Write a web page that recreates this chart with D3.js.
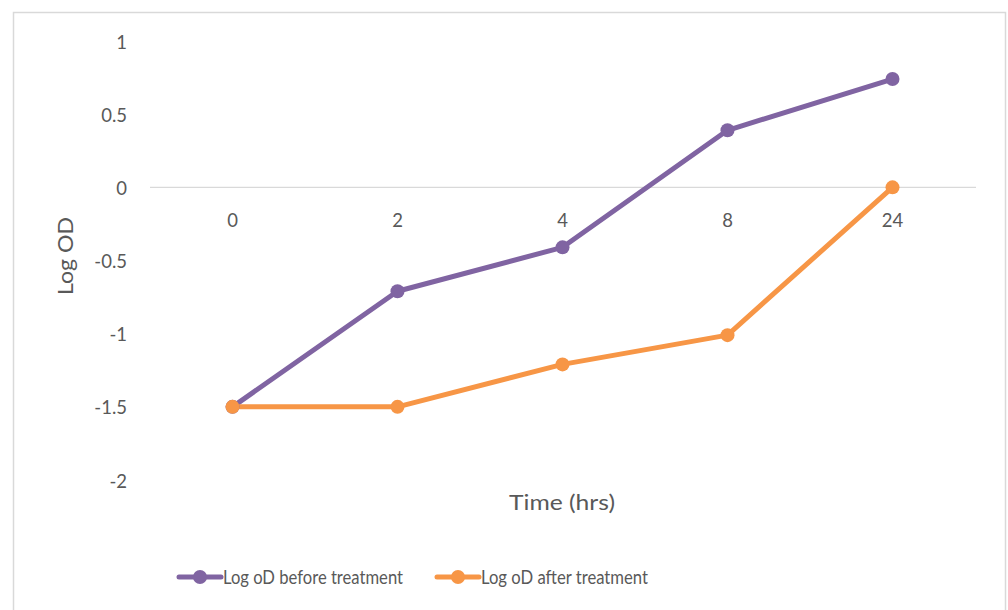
<!DOCTYPE html>
<html><head><meta charset="utf-8">
<script src="https://cdn.jsdelivr.net/npm/d3@7"></script>
<style>body{margin:0;background:#fff;}svg{display:block;}</style>
</head><body>
<svg id="chart" width="1008" height="610"></svg>
<script>
const categories = ["0", "2", "4", "8", "24"];
const beforeValues = [-1.5, -0.71, -0.41, 0.39, 0.74];
const afterValues = [-1.5, -1.5, -1.21, -1.01, 0.0];
const yTicks = [1, 0.5, 0, -0.5, -1, -1.5, -2];
const seriesNames = ["Log oD before treatment", "Log oD after treatment"];
const seriesColors = ["#8064A2", "#F79646"];

const svg = d3.select("#chart");
const font = "Lato, 'Open Sans', sans-serif";
const textColor = "#595959";

svg.append("rect").attr("x", 13.5).attr("y", 12.5).attr("width", 992).attr("height", 610)
  .attr("fill", "#fff").attr("stroke", "#D9D9D9").attr("stroke-width", 1.5);

const x = d3.scaleBand().domain(categories).range([150, 975]);
const y = d3.scaleLinear().domain([-2, 1]).range([480, 41]);
const fmt = v => d3.format("~g")(v).replace("\u2212", "-");

// zero line
svg.append("line").attr("x1", 150).attr("x2", 976).attr("y1", y(0)).attr("y2", y(0))
  .attr("stroke", "#D9D9D9").attr("stroke-width", 1.3);

// y tick labels
const yAxis = d3.axisLeft(y).tickValues(yTicks).tickSize(0).tickPadding(0).tickFormat(fmt);
const gy = svg.append("g").attr("transform", "translate(127,0)").call(yAxis);
gy.select(".domain").remove();
gy.selectAll("text").attr("font-family", font).attr("font-size", 18.5).attr("fill", textColor)
  .attr("dy", null).attr("y", 7);

// x tick labels
const xAxis = d3.axisBottom(x).tickSize(0).tickPadding(0);
const gx = svg.append("g").attr("transform", `translate(0,${y(0)})`).call(xAxis);
gx.select(".domain").remove();
gx.selectAll("text").attr("font-family", font).attr("font-size", 18.5).attr("fill", textColor)
  .attr("dy", null).attr("y", 40);

// titles
svg.append("text").attr("x", 562).attr("y", 510).attr("text-anchor", "middle")
  .attr("font-family", font).attr("font-size", 22).attr("fill", textColor)
  .attr("textLength", 106).attr("lengthAdjust", "spacingAndGlyphs").text("Time (hrs)");
svg.append("text").attr("transform", "translate(73,256) rotate(-90)").attr("text-anchor", "middle")
  .attr("font-family", font).attr("font-size", 22).attr("fill", textColor)
  .attr("textLength", 78).attr("lengthAdjust", "spacingAndGlyphs").text("Log OD");

const series = [beforeValues, afterValues];
const line = d3.line().x((d, i) => x(categories[i]) + x.bandwidth() / 2).y(d => y(d));

series.forEach((vals, si) => {
  svg.append("path").datum(vals).attr("d", line).attr("fill", "none")
    .attr("stroke", seriesColors[si]).attr("stroke-width", 5).attr("stroke-linejoin", "round").attr("stroke-linecap", "round");
});
series.forEach((vals, si) => {
  svg.selectAll(null).data(vals).enter().append("circle")
    .attr("cx", (d, i) => x(categories[i]) + x.bandwidth() / 2)
    .attr("cy", d => y(d)).attr("r", 7).attr("fill", seriesColors[si]);
});

// legend
const legendX = [179, 437];
const legendW = [180, 167];
const ly = 577;
seriesNames.forEach((name, i) => {
  const g = svg.append("g");
  g.append("line").attr("x1", legendX[i]).attr("x2", legendX[i] + 42).attr("y1", ly).attr("y2", ly)
    .attr("stroke", seriesColors[i]).attr("stroke-width", 5).attr("stroke-linecap", "round");
  g.append("circle").attr("cx", legendX[i] + 21).attr("cy", ly).attr("r", 7).attr("fill", seriesColors[i]);
  g.append("text").attr("x", legendX[i] + 44).attr("y", 583.5)
    .attr("font-family", font).attr("font-size", 19.5).attr("fill", textColor)
    .attr("textLength", legendW[i]).attr("lengthAdjust", "spacingAndGlyphs").text(name);
});
</script>
</body></html>
